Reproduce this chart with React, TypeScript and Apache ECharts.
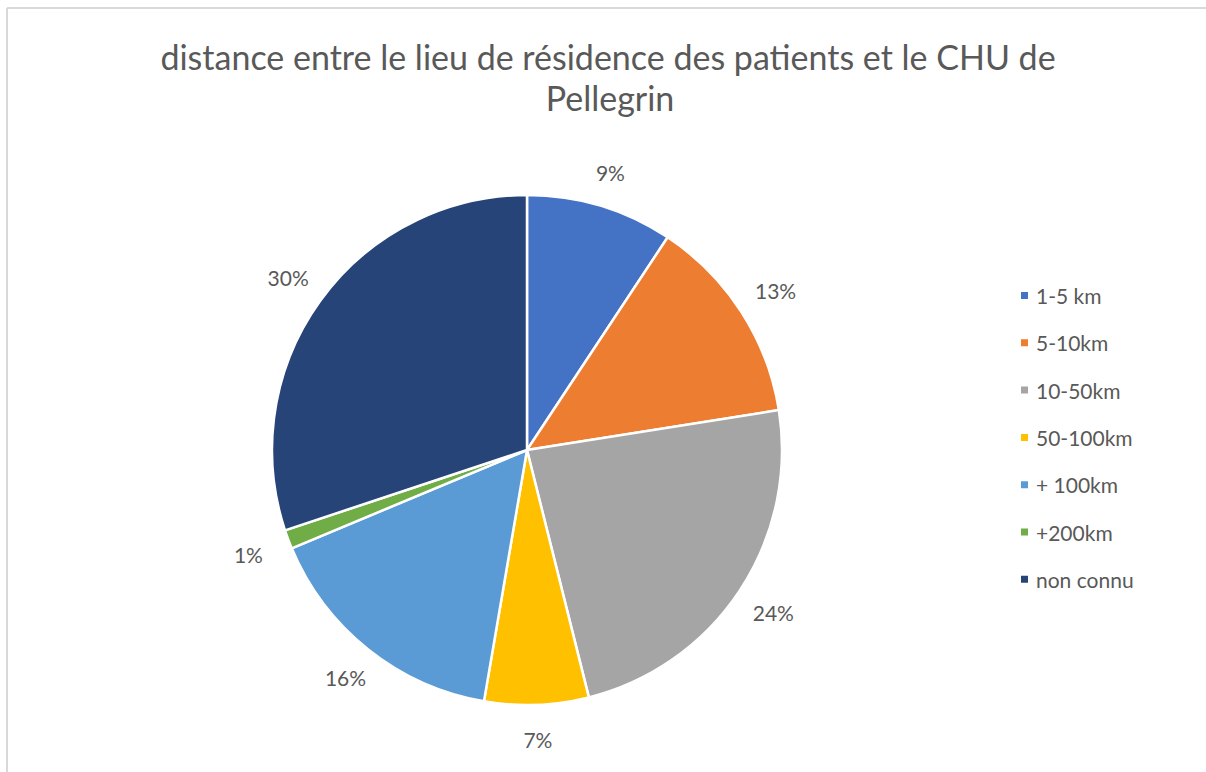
import React, { useEffect, useRef } from "react";
import * as echarts from "echarts";

const categories = ["1-5 km", "5-10km", "10-50km", "50-100km", "+ 100km", "+200km", "non connu"];
const shares = [9.3, 13.2, 23.6, 6.6, 16.0, 1.2, 30.1];
const colors = ["#4472C4", "#ED7D31", "#A5A5A5", "#FFC000", "#5B9BD5", "#70AD47", "#264478"];
const titleLines = ["distance entre le lieu de résidence des patients et le CHU de", "Pellegrin"];

const CX = 527;
const CY = 450;
const R = 255;
const GAP = 27;
const FONT = "Lato, 'Open Sans', sans-serif";
const TEXT = "#595959";

export default function App() {
  const ref = useRef<HTMLDivElement>(null);
  useEffect(() => {
    const chart = echarts.init(ref.current!, null, { renderer: "svg" });
    const total = shares.reduce((a, b) => a + b, 0);
    const mids: number[] = [];
    let acc = 0;
    shares.forEach((v) => {
      mids.push(((acc + v / 2) / total) * 2 * Math.PI);
      acc += v;
    });
    chart.setOption({
      animation: false,
      backgroundColor: "#ffffff",
      graphic: [
        { type: "line", shape: { x1: 7, y1: 8, x2: 1206, y2: 8 }, style: { stroke: "#d9d9d9", lineWidth: 2 }, silent: true },
        { type: "line", shape: { x1: 7, y1: 8, x2: 7, y2: 772 }, style: { stroke: "#d9d9d9", lineWidth: 2 }, silent: true },
        {
          type: "text", x: 608, y: 56,
          style: { text: titleLines[0], align: "center", verticalAlign: "middle", fontFamily: FONT, fontSize: 34, fill: TEXT },
        },
        {
          type: "text", x: 610, y: 97,
          style: { text: titleLines[1], align: "center", verticalAlign: "middle", fontFamily: FONT, fontSize: 34, fill: TEXT },
        },
      ],
      legend: {
        orient: "vertical",
        left: 1014,
        top: 280,
        icon: "rect",
        itemWidth: 9,
        itemHeight: 9,
        itemGap: 26.3,
        selectedMode: false,
        data: categories,
        textStyle: { fontFamily: FONT, fontSize: 21, color: TEXT, lineHeight: 20, padding: [0, 0, 0, 2] },
      },
      series: [
        {
          type: "pie",
          center: [CX, CY],
          radius: R,
          startAngle: 90,
          clockwise: true,
          avoidLabelOverlap: false,
          data: categories.map((n, i) => ({ name: n, value: shares[i], itemStyle: { color: colors[i] } })),
          itemStyle: { borderColor: "#ffffff", borderWidth: 2.5 },
          label: {
            show: true,
            position: "outside",
            formatter: (p: any) => Math.round(p.percent) + "%",
            fontFamily: FONT,
            fontSize: 21,
            color: TEXT,
          },
          labelLine: { show: false },
          labelLayout: (p: any) => {
            const a = mids[p.dataIndex];
            const sx = Math.sin(a);
            const cy = Math.cos(a);
            const w = p.labelRect.width / 2;
            const h = (p.labelRect.height * 0.7) / 2;
            const ext = Math.min(Math.abs(sx) > 1e-6 ? w / Math.abs(sx) : 1e9, Math.abs(cy) > 1e-6 ? h / Math.abs(cy) : 1e9);
            const d = R + GAP + ext;
            return { x: CX + d * sx, y: CY - d * cy, align: "center", verticalAlign: "middle" };
          },
          emphasis: { disabled: true },
        },
      ],
    });
    return () => chart.dispose();
  }, []);
  return <div ref={ref} style={{ position: "absolute", left: 0, top: 0, width: 1206, height: 772 }} />;
}
